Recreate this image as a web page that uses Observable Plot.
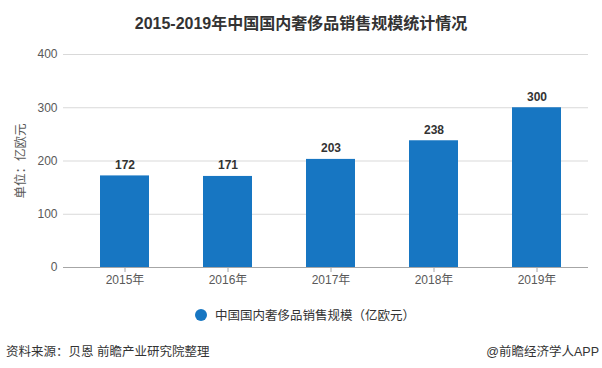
<!DOCTYPE html>
<html><head><meta charset="utf-8">
<script src="https://cdn.jsdelivr.net/npm/d3@7"></script>
<script src="https://cdn.jsdelivr.net/npm/@observablehq/plot@0.6"></script>
<style>
body{margin:0;background:#fff;font-family:"Liberation Sans","Noto Sans CJK SC",sans-serif;}
#wrap{position:relative;width:602px;height:368px;overflow:hidden;background:#fff;}
#title{position:absolute;left:0;top:10px;width:602px;text-align:center;font-size:16px;font-weight:bold;color:#333;}
#legend{position:absolute;left:195px;top:305px;font-size:12.5px;color:#333;display:flex;align-items:center;}
#legend span.dot{display:inline-block;width:12px;height:12px;border-radius:50%;background:#1776c2;margin-right:8px;}
#src{position:absolute;left:6px;top:341px;font-size:12.5px;color:#333;}
#app{position:absolute;right:3px;top:341px;font-size:12.5px;color:#333;}
#chart svg{position:absolute;left:0;top:0;}
</style></head>
<body>
<div id="wrap">
  <div id="chart"></div>
  <div id="title">2015-2019年中国国内奢侈品销售规模统计情况</div>
  <div id="legend"><span class="dot"></span>中国国内奢侈品销售规模（亿欧元）</div>
  <div id="src">资料来源：贝恩 前瞻产业研究院整理</div>
  <div id="app">@前瞻经济学人APP</div>
</div>
<script>
const years = ["2015年","2016年","2017年","2018年","2019年"];
const values = [172, 171, 203, 238, 300];
const yTicks = [0, 100, 200, 300, 400];
const unitLabel = "单位：亿欧元";
const barColor = "#1776c2";

const data = years.map((y, i) => ({year: y, value: values[i]}));

const chart = Plot.plot({
  width: 602,
  height: 300,
  marginTop: 54,
  marginBottom: 33,
  marginLeft: 63,
  marginRight: 14,
  style: {fontFamily: '"Liberation Sans","Noto Sans CJK SC",sans-serif', fontSize: "12px", color: "#595959", background: "transparent"},
  x: {domain: years, paddingInner: 0.525, paddingOuter: 0.2625, insetLeft: 9.5, label: null},
  y: {domain: [0, 400], label: null},
  marks: [
    Plot.gridY(yTicks, {stroke: "#d9d9d9", strokeOpacity: 1}),
    Plot.barY(data, {x: "year", y: "value", fill: barColor}),
    Plot.ruleY([0], {stroke: "#a6a6a6"}),
    Plot.axisY(yTicks, {tickSize: 0, tickPadding: 6, fontSize: 12, fill: "#595959"}),
    Plot.axisX({tickSize: 5, tickPadding: 3, stroke: "#a6a6a6", fontSize: 12, fill: "#595959"}),
    Plot.text(data, {x: "year", y: "value", text: d => String(d.value), dy: -11, fontWeight: "bold", fontSize: 12, fill: "#333"}),
    Plot.text([unitLabel], {frameAnchor: "left", textAnchor: "middle", dx: -43, dy: 0, rotate: -90, fontSize: 12.5, fill: "#595959"})
  ]
});
document.getElementById("chart").appendChild(chart);
</script>
</body></html>
